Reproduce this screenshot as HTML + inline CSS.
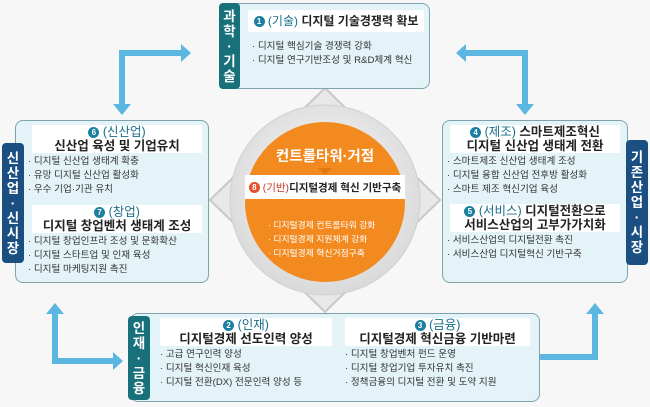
<!DOCTYPE html>
<html><head><meta charset="utf-8"><style>
*{margin:0;padding:0;box-sizing:border-box}
body{width:650px;height:407px;background:#f7f7f7;position:relative;overflow:hidden;font-family:"Liberation Sans","Noto Sans CJK KR",sans-serif;color:#222}
.box{position:absolute;background:#e3f3f8;border:1.5px solid #7fa3ad;border-radius:8px}
.tab{position:absolute;color:#fff;font-weight:bold;font-size:13.5px;line-height:15px;text-align:center;border-radius:4px;display:flex;flex-direction:column;justify-content:center;align-items:center}
.teal{background:#17707a}.navy{background:#1b4f82}
.hd{position:absolute;background:#fff;text-align:center;font-weight:bold;font-size:12.5px;line-height:14px;white-space:nowrap}
.num{display:inline-block;width:11px;height:11px;border-radius:50%;background:#1a7fa0;color:#fff;font-size:8px;line-height:11px;text-align:center;vertical-align:1px}
.bl{position:absolute;font-size:9.6px;line-height:14px;color:#333;white-space:nowrap}
.sm{font-weight:normal;color:#1a6f8a}
</style></head><body>
<svg width="650" height="407" style="position:absolute;left:0;top:0">
<defs><radialGradient id="g" cx="50%" cy="45%" r="55%"><stop offset="0" stop-color="#ffffff"/><stop offset="1" stop-color="#d9d9d9"/></radialGradient></defs>
<polygon points="325,88 440,200 325,312 210,200" fill="#e8e8e8" stroke="#c8c8c8" stroke-width="2"/>
<circle cx="325" cy="200" r="95" fill="url(#g)" stroke="#d0d0d0"/>
<circle cx="325" cy="202" r="80" fill="#f28a1f"/>
<rect x="245" y="175" width="160" height="24" fill="#fff"/>
<polygon points="318,168 332,168 325,175" fill="#e07a10"/>
<g fill="#5bb6e2">
<path d="M119,50 h62 v-6 l10,9 l-10,9 v-6 h-56 v48 h6 l-9,11 l-9,-11 h6 z"/>
<path d="M528,50 h-62 v-6 l-10,9 l10,9 v-6 h56 v48 h-6 l9,11 l9,-11 h-6 z"/>
<path d="M52,364 v-50 h-6 l9,-11 l9,11 h-6 v44 h55 v-6 l10,9 l-10,9 v-6 z"/>
<path d="M598,360 v-46 h6 l-9,-11 l-9,11 h6 v40 h-52 v-6 l-10,9 l10,9 v-6 z"/>
</g>
</svg>

<!-- top -->
<div class="box" style="left:220px;top:3px;width:210px;height:86px"></div>
<div class="tab teal" style="left:219px;top:3px;width:21px;height:86px">과<br>학<br>·<br>기<br>술</div>
<div class="hd" style="left:248px;top:10px;width:176px;height:22px;line-height:22px;font-size:12px"><span class="num">1</span> <span class="sm">(기술)</span> 디지털 기술경쟁력 확보</div>
<div class="bl" style="left:252px;top:40px">· 디지털 핵심기술 경쟁력 강화<br>· 디지털 연구기반조성 및 R&amp;D체계 혁신</div>

<!-- left -->
<div class="box" style="left:15px;top:120px;width:194px;height:163px"></div>
<div class="tab navy" style="left:2px;top:143px;width:22px;height:120px">신<br>산<br>업<br>·<br>신<br>시<br>장</div>
<div class="hd" style="left:32px;top:125px;width:170px;height:28px"><span class="num">6</span> <span class="sm">(신산업)</span><br>신산업 육성 및 기업유치</div>
<div class="bl" style="left:28px;top:155px">· 디지털 신산업 생태계 확충<br>· 유망 디지털 신산업 활성화<br>· 우수 기업·기관 유치</div>
<div class="hd" style="left:32px;top:205px;width:170px;height:28px"><span class="num">7</span> <span class="sm">(창업)</span><br>디지털 창업벤처 생태계 조성</div>
<div class="bl" style="left:28px;top:235px">· 디지털 창업인프라 조성 및 문화확산<br>· 디지털 스타트업 및 인재 육성<br>· 디지털 마케팅지원 촉진</div>

<!-- right -->
<div class="box" style="left:442px;top:120px;width:186px;height:163px"></div>
<div class="tab navy" style="left:626px;top:140px;width:22px;height:125px">기<br>존<br>산<br>업<br>·<br>시<br>장</div>
<div class="hd" style="left:450px;top:125px;width:170px;height:28px"><span class="num">4</span> <span class="sm">(제조)</span> 스마트제조혁신<br>디지털 신산업 생태계 전환</div>
<div class="bl" style="left:447px;top:155px">· 스마트제조 신산업 생태계 조성<br>· 디지털 융합 신산업 전후방 활성화<br>· 스마트 제조 혁신기업 육성</div>
<div class="hd" style="left:450px;top:204px;width:170px;height:28px"><span class="num">5</span> <span class="sm">(서비스)</span> 디지털전환으로<br>서비스산업의 고부가가치화</div>
<div class="bl" style="left:447px;top:234px">· 서비스산업의 디지털전환 촉진<br>· 서비스산업 디지털혁신 기반구축</div>

<!-- bottom -->
<div class="box" style="left:130px;top:313px;width:410px;height:89px"></div>
<div class="tab teal" style="left:128px;top:316px;width:22px;height:84px">인<br>재<br>·<br>금<br>융</div>
<div class="hd" style="left:160px;top:318px;width:172px;height:28px"><span class="num">2</span> <span class="sm">(인재)</span><br>디지털경제 선도인력 양성</div>
<div class="bl" style="left:160px;top:348px">· 고급 연구인력 양성<br>· 디지털 혁신인재 육성<br>· 디지털 전환(DX) 전문인력 양성 등</div>
<div class="hd" style="left:345px;top:318px;width:185px;height:28px"><span class="num">3</span> <span class="sm">(금융)</span><br>디지털경제 혁신금융 기반마련</div>
<div class="bl" style="left:345px;top:348px">· 디지털 창업벤처 펀드 운영<br>· 디지털 창업기업 투자유치 촉진<br>· 정책금융의 디지털 전환 및 도약 지원</div>

<!-- center -->
<div style="position:absolute;left:245px;top:145px;width:160px;text-align:center;color:#fff;font-weight:bold;font-size:14.5px">컨트롤타워·거점</div>
<div style="position:absolute;left:245px;top:180px;width:160px;text-align:center;font-weight:bold;font-size:10.5px;white-space:nowrap"><span class="num" style="background:#e0502a">8</span> <span style="color:#c0392b;font-weight:normal">(기반)</span>디지털경제 혁신 기반구축</div>
<div class="bl" style="left:268px;top:218px;color:#fff;font-size:8.8px;line-height:14px">· 디지털경제 컨트롤타워 강화<br>· 디지털경제 지원체계 강화<br>· 디지털경제 혁신거점구축</div>
</body></html>
